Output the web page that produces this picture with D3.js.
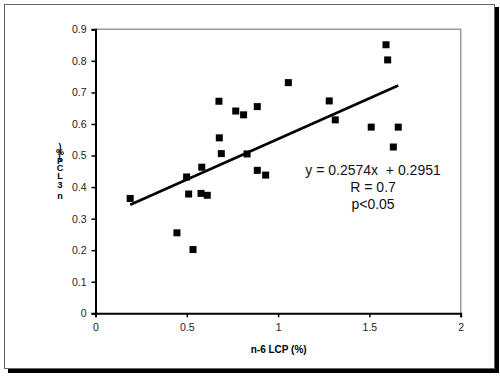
<!DOCTYPE html>
<html>
<head>
<meta charset="utf-8">
<script src="https://cdn.jsdelivr.net/npm/d3@7"></script>
<style>
  body { margin: 0; background: #fff; }
  svg { display: block; font-family: "Liberation Sans", Arial, sans-serif; }
</style>
</head>
<body>
<svg></svg>
<script>
const w = 500
const h = 376

// data
const n6 = [0.19, 0.446, 0.499, 0.51, 0.534, 0.578, 0.582, 0.612, 0.676, 0.678, 0.689,
  0.768, 0.811, 0.83, 0.886, 0.886, 0.932, 1.056, 1.28, 1.313, 1.51, 1.591, 1.6, 1.631, 1.658]
const n3 = [0.364, 0.255, 0.432, 0.378, 0.202, 0.38, 0.463, 0.374, 0.672, 0.556, 0.506,
  0.641, 0.629, 0.505, 0.655, 0.453, 0.438, 0.731, 0.673, 0.613, 0.59, 0.851, 0.803, 0.527, 0.59]
const xTicks = [0, 0.5, 1, 1.5, 2]
const yTicks = [0, 0.1, 0.2, 0.3, 0.4, 0.5, 0.6, 0.7, 0.8, 0.9]
const slope = 0.2574
const intercept = 0.2951
const statLines = ['y = 0.2574x  + 0.2951', 'R = 0.7', 'p<0.05']

const svg = d3.select('svg')
  .attr('width', w)
  .attr('height', h)

// frame with drop shadow
svg.append('rect')
  .attr('x', 8).attr('y', 7).attr('width', 491).attr('height', 366)
  .attr('fill', '#000')
svg.append('rect')
  .attr('x', 4.5).attr('y', 4.5).attr('width', 490).attr('height', 364)
  .attr('fill', '#fff').attr('stroke', '#666').attr('stroke-width', 1)

const margin = {top: 29.3, right: 39.3, bottom: 62.7, left: 95.5}
const innerWidth = w - margin.left - margin.right
const innerHeight = h - margin.top - margin.bottom

const xScale = d3.scaleLinear().domain([0, 2]).range([0, innerWidth])
const yScale = d3.scaleLinear().domain([0, 0.9]).range([innerHeight, 0])

const g = svg.append('g')
  .attr('transform', `translate(${margin.left}, ${margin.top})`)

// gray plot border (top, right)
g.append('path')
  .attr('d', `M0,0H${innerWidth}V${innerHeight}`)
  .attr('fill', 'none').attr('stroke', '#999').attr('stroke-width', 1.5)

const xAxis = d3.axisBottom(xScale)
  .tickValues(xTicks)
  .tickFormat(d3.format('~g'))
  .tickSizeOuter(0)
  .tickSize(4)
  .tickPadding(6)
const yAxis = d3.axisLeft(yScale)
  .tickValues(yTicks)
  .tickFormat(d3.format('~g'))
  .tickSizeOuter(0)
  .tickSize(4)
  .tickPadding(5)

const xAxisG = g.append('g').attr('transform', `translate(0, ${innerHeight})`).call(xAxis)
const yAxisG = g.append('g').call(yAxis)

;[xAxisG, yAxisG].forEach(a => {
  a.select('.domain').attr('stroke', '#000').attr('stroke-width', 2)
  a.selectAll('.tick line').attr('stroke', '#000').attr('stroke-width', 1.5)
  a.selectAll('.tick text')
    .attr('font-family', '"Liberation Sans", Arial, sans-serif')
    .attr('font-size', 10.5).attr('fill', '#222')
})

// trend line across data range
const xMin = d3.min(n6), xMax = d3.max(n6)
g.append('line')
  .attr('x1', xScale(xMin)).attr('y1', yScale(slope * xMin + intercept))
  .attr('x2', xScale(xMax)).attr('y2', yScale(slope * xMax + intercept))
  .attr('stroke', '#000').attr('stroke-width', 2.5)

// points
const s = 7
g.selectAll('rect.pt').data(n6)
  .enter().append('rect')
  .attr('class', 'pt')
  .attr('x', (d, i) => xScale(d) - s / 2)
  .attr('y', (d, i) => yScale(n3[i]) - s / 2)
  .attr('width', s).attr('height', s)
  .attr('fill', '#000')

// stats text
g.append('g').selectAll('text').data(statLines)
  .enter().append('text')
  .attr('x', xScale(1.52))
  .attr('y', (d, i) => yScale(0.437) + i * 17)
  .attr('text-anchor', 'middle')
  .attr('font-size', 14)
  .attr('fill', '#111')
  .style('white-space', 'pre')
  .text(d => d)

// x title
svg.append('text')
  .attr('x', 278.7).attr('y', 353)
  .attr('text-anchor', 'middle')
  .attr('font-size', 10).attr('font-weight', 'bold')
  .text('n-6 LCP (%)')

// y title, squeezed stack of characters (one text, read bottom to top)
const yChars = ['n', '3', 'L', 'C', 'P', '(', '%', ')']
const yPos = [196, 185, 176, 168, 161, 156, 152, 147]
svg.append('text')
  .attr('text-anchor', 'middle')
  .attr('font-size', 9).attr('font-weight', 'bold')
  .selectAll('tspan').data(yChars)
  .enter().append('tspan')
  .attr('x', 60).attr('y', (d, i) => yPos[i] + 3)
  .text(d => d)
</script>
</body>
</html>
